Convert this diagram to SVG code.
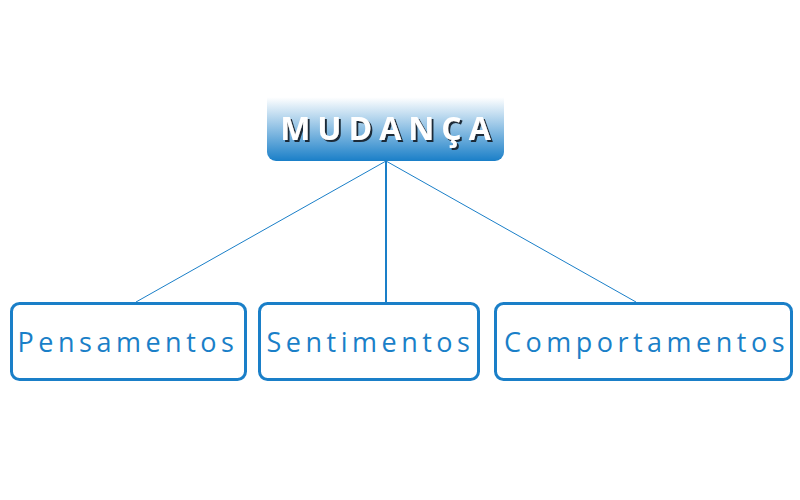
<svg xmlns="http://www.w3.org/2000/svg" width="800" height="500" viewBox="0 0 800 500">
<defs>
<linearGradient id="g" x1="0" y1="0" x2="0" y2="1">
<stop offset="0" stop-color="#ffffff"/>
<stop offset="0.15" stop-color="#ffffff"/>
<stop offset="1" stop-color="#1a7fc8"/>
</linearGradient>
<filter id="sh" x="-10%" y="-20%" width="120%" height="140%">
<feDropShadow dx="2" dy="2" stdDeviation="0.6" flood-color="#1f2a38" flood-opacity="1"/>
</filter>
</defs>
<style>
.box{fill:#ffffff;stroke:#1a7fc8;stroke-width:3}
.lbl{font-family:"Open Sans","DejaVu Sans",sans-serif;font-size:27px;fill:#1a7fc8;letter-spacing:4.5px;text-anchor:middle}
.root{font-family:"Open Sans","DejaVu Sans",sans-serif;font-size:32px;font-weight:bold;fill:#ffffff;letter-spacing:7px;text-anchor:middle}
.c{stroke:#1a7fc8;fill:none}
</style>
<rect width="800" height="500" fill="#ffffff"/>
<g id="connectors">
<line class="c" x1="386" y1="161" x2="136" y2="302" stroke-width="1"/>
<line class="c" x1="386" y1="161" x2="386" y2="302" stroke-width="2"/>
<line class="c" x1="386" y1="161" x2="636" y2="302" stroke-width="1"/>
</g>
<g id="mudanca">
<rect x="267" y="86" width="237" height="75" rx="9" fill="url(#g)"/>
<text class="root" x="389" y="140" filter="url(#sh)">MUDANÇA</text>
</g>
<g id="pensamentos">
<rect class="box" x="11.5" y="303.5" width="234" height="76" rx="8"/>
<text class="lbl" x="128" y="352">Pensamentos</text>
</g>
<g id="sentimentos">
<rect class="box" x="259.5" y="303.5" width="219" height="76" rx="8"/>
<text class="lbl" x="370.5" y="352">Sentimentos</text>
</g>
<g id="comportamentos">
<rect class="box" x="495.5" y="303.5" width="296" height="76" rx="8"/>
<text class="lbl" x="646.5" y="352">Comportamentos</text>
</g>
</svg>
